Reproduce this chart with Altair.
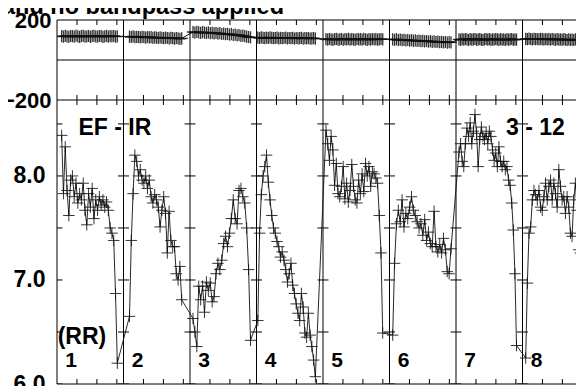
import altair as alt
import pandas as pd

FONT = "Liberation Sans"
TITLE = "and no bandpass applied"
SEG_NAMES = ["1", "2", "3", "4", "5", "6", "7", "8"]
PANEL_LABELS = ["EF - IR", "3 - 12"]
RR_LABEL = "(RR)"

# sample window inside each segment (fraction of the segment width)
SEG_T0 = [0.07, 0.09, 0.045, 0.02, 0.045, 0.048, 0.045, 0.048]
SEG_T1 = [0.907, 0.875, 0.91, 0.885, 0.898, 0.925, 0.91, 0.92]

# lower panel (amplitude)
AMP_1 = [8.39, 7.83, 8.28, 7.86, 7.62, 7.96, 8.00, 7.80, 7.93, 7.74, 7.83, 7.77, 7.93, 7.67, 7.53, 7.83,
         7.70, 7.88, 7.59, 7.77, 7.67, 7.80, 7.72, 7.77, 7.70, 7.75, 7.67, 7.50, 7.45, 7.38, 6.87, 6.20]
AMP_2 = [6.65, 7.38, 7.83, 8.20, 8.14, 8.00, 8.06, 7.96, 7.93, 8.00, 7.88, 7.96, 7.80, 7.74, 7.82, 7.77,
         7.70, 7.51, 7.67, 7.80, 7.64, 7.26, 7.66, 7.38, 7.32, 7.32, 7.06, 7.00, 7.13, 6.81]
AMP_3 = [6.63, 6.50, 6.36, 6.94, 6.81, 6.94, 6.69, 6.98, 6.90, 6.97, 6.79, 6.84, 7.06, 7.16, 7.10, 7.19,
         7.35, 7.42, 7.32, 7.45, 7.59, 7.77, 7.59, 7.54, 7.86, 7.88, 7.80, 7.74, 7.50, 7.10, 6.42]
AMP_4 = [6.61, 7.45, 7.82, 8.00, 8.09, 8.20, 7.94, 7.77, 7.62, 7.50, 7.45, 7.37, 7.32, 7.22, 7.27, 7.19,
         7.10, 6.98, 7.06, 7.16, 6.95, 6.87, 6.77, 6.68, 6.61, 6.87, 6.74, 6.49, 6.45, 6.68, 6.47, 6.36,
         6.23, 6.07]
AMP_5 = [8.44, 8.31, 8.15, 8.38, 8.25, 7.91, 8.12, 7.83, 7.80, 7.90, 8.09, 7.78, 7.93, 7.75, 7.86, 8.11,
         7.90, 7.77, 7.74, 7.96, 7.83, 8.02, 7.85, 8.12, 8.00, 8.09, 7.90, 8.04, 8.02, 7.98, 7.93, 7.62,
         7.26, 6.49]
AMP_6 = [6.47, 7.16, 7.54, 7.67, 7.56, 7.77, 7.51, 7.64, 7.59, 7.70, 7.80, 7.67, 7.62, 7.56, 7.50, 7.54,
         7.43, 7.58, 7.38, 7.46, 7.35, 7.32, 7.66, 7.32, 7.27, 7.34, 7.26, 7.40, 7.29, 7.08, 7.06, 7.30]
AMP_7 = [8.23, 8.31, 8.14, 8.09, 8.31, 8.46, 8.38, 8.51, 8.31, 8.43, 8.59, 8.41, 8.09, 8.35, 8.47, 8.38,
         8.35, 8.41, 8.31, 8.43, 8.38, 8.25, 8.15, 8.22, 8.09, 8.28, 8.14, 8.09, 8.14, 8.06, 8.09, 7.96,
         7.91, 7.74, 7.48, 7.06, 6.37]
AMP_8 = [6.25, 6.97, 7.45, 7.51, 7.77, 7.86, 7.82, 7.77, 7.86, 7.70, 7.67, 7.80, 7.93, 7.77, 7.90, 7.96,
         7.77, 7.93, 7.83, 7.70, 8.06, 7.90, 7.77, 7.80, 7.64, 7.80, 7.70, 7.45, 7.42, 7.77, 7.93, 7.67,
         7.29, 7.26, 7.70, 7.90]

# upper panel (phase)
PH_1 = [119, 117, 121, 118, 116, 120, 119, 117, 122, 118, 116, 119, 121, 117, 118, 120,
        116, 119, 121, 118, 117, 120, 119, 116, 118, 121, 117, 119, 118, 120, 117, 118]
PH_2 = [117, 115, 118, 114, 116, 115, 113, 116, 114, 112, 115, 113, 114, 111, 113, 112,
        110, 113, 111, 109, 112, 110, 108, 111, 109, 107, 110, 108, 106, 108]
PH_3 = [140, 137, 141, 138, 136, 139, 137, 135, 138, 134, 136, 133, 135, 132, 134, 130,
        132, 129, 131, 127, 129, 125, 127, 123, 125, 121, 122, 119, 117, 115, 113]
PH_4 = [112, 110, 113, 111, 109, 112, 110, 113, 111, 109, 110, 112, 108, 111, 109, 110,
        112, 108, 110, 109, 111, 107, 110, 108, 109, 111, 107, 109, 108, 110, 107, 108, 109, 107]
PH_5 = [104, 102, 105, 103, 101, 104, 106, 102, 103, 105, 101, 104, 103, 106, 102, 104,
        103, 101, 105, 103, 104, 102, 106, 103, 101, 104, 102, 105, 103, 104, 102, 103, 105, 103]
PH_6 = [103, 101, 104, 100, 102, 99, 101, 98, 100, 97, 99, 96, 98, 95, 97, 94,
        96, 93, 95, 92, 94, 91, 93, 90, 92, 89, 91, 88, 90, 87, 89, 88]
PH_7 = [103, 101, 104, 102, 105, 103, 100, 104, 102, 103, 105, 101, 103, 104, 102, 100,
        103, 105, 102, 104, 101, 103, 102, 105, 103, 101, 104, 102, 103, 100, 104, 102,
        103, 105, 101, 103, 102]
PH_8 = [106, 104, 107, 105, 103, 106, 104, 105, 103, 106, 104, 102, 105, 103, 104, 102,
        105, 103, 101, 104, 102, 103, 101, 104, 102, 100, 103, 101, 102, 100, 103, 101,
        99, 102, 100, 101]

PH_TICKS = [200, -200]
PH_LINES = [200, 0, -200]
AMP_TICKS = [6.0, 7.0, 8.0]
AMP_MINOR = [6.0, 6.5, 7.0, 7.5, 8.0, 8.5]
X_TICKS_IN_SEG = [0.3, 0.6, 0.9]

AMP = [AMP_1, AMP_2, AMP_3, AMP_4, AMP_5, AMP_6, AMP_7, AMP_8]
PH = [PH_1, PH_2, PH_3, PH_4, PH_5, PH_6, PH_7, PH_8]


def series(segs):
    rows = []
    for k, vals in enumerate(segs):
        n = len(vals)
        for i, v in enumerate(vals):
            t = k + SEG_T0[k] + (SEG_T1[k] - SEG_T0[k]) * i / (n - 1)
            rows.append({"t": t, "v": v})
    return pd.DataFrame(rows)


amp_df = series(AMP)
ph_df = series(PH)

XMAX = 527 / 66.5
xs = alt.Scale(domain=[0, XMAX], nice=False, zero=False)
ps = alt.Scale(domain=[-200, 200], range=[80, 0], nice=False, zero=False)
ams = alt.Scale(domain=[6.0, 8.73], range=[364, 80], nice=False, zero=False)

X = alt.X("t:Q", scale=xs, axis=None)


def YP(axis=None):
    return alt.Y("v:Q", scale=ps, axis=axis)


def YA(axis=None):
    return alt.Y("v:Q", scale=ams, axis=axis)


lab = dict(labelFont=FONT, labelFontWeight="bold", labelColor="black",
           ticks=False, domain=False, grid=False, title=None, labelOverlap=False, labelFlush=False)
ph_axis = alt.Axis(orient="left", values=PH_TICKS, labelPadding=6, labelFontSize=22, **lab)
amp_axis = alt.Axis(orient="left", values=AMP_TICKS, format=".1f", labelPadding=12, labelFontSize=23, **lab)

INK = "#111111"
PLUS = "M-1,0L1,0M0,-1L0,1"

sep = alt.Chart(pd.DataFrame({"t": list(range(8))})).mark_rule(color="black", strokeWidth=1).encode(x=X)
hl_top = alt.Chart(pd.DataFrame({"v": PH_LINES})).mark_rule(color="black", strokeWidth=1).encode(y=YP())
hl_bot = alt.Chart(pd.DataFrame({"v": [AMP_MINOR[0]]})).mark_rule(color="black", strokeWidth=1).encode(y=YA())

xt = [k + f for k in range(9) for f in X_TICKS_IN_SEG]
vt_top = alt.Chart(pd.DataFrame([{"t": t, "v": v} for t in xt for v in PH_TICKS])).mark_tick(
    orient="vertical", size=10, thickness=1, color="black", opacity=1, clip=True).encode(x=X, y=YP())
vt_bot = alt.Chart(pd.DataFrame([{"t": t, "v": AMP_MINOR[0]} for t in xt])).mark_tick(
    orient="vertical", size=10, thickness=1, color="black", opacity=1, clip=True).encode(x=X, y=YA())
ht_bot = alt.Chart(pd.DataFrame([{"t": k, "v": v} for k in range(9) for v in AMP_MINOR])).mark_tick(
    orient="horizontal", size=11, thickness=1, color="black", opacity=1, clip=True).encode(x=X, y=YA())

ph_line = alt.Chart(ph_df).mark_line(color=INK, strokeWidth=1, clip=True).encode(x=X, y=YP(ph_axis))
ph_pts = alt.Chart(ph_df).mark_point(shape=PLUS, size=150, filled=False, strokeWidth=1.3, color=INK,
                                     opacity=0.85, clip=True).encode(x=X, y=YP())
amp_line = alt.Chart(amp_df).mark_line(color=INK, strokeWidth=0.9, clip=True).encode(x=X, y=YA(amp_axis))
amp_pts = alt.Chart(amp_df).mark_point(shape=PLUS, size=132, filled=False, strokeWidth=1, color=INK,
                                       opacity=0.85, clip=True).encode(x=X, y=YA())

txt_rows = [{"t": 0.323, "v": 8.394, "label": PANEL_LABELS[0]},
            {"t": 6.752, "v": 8.394, "label": PANEL_LABELS[1]},
            {"t": 0.01, "v": 6.385, "label": RR_LABEL}]
big_txt = alt.Chart(pd.DataFrame(txt_rows)).mark_text(
    font=FONT, fontSize=23, fontWeight="bold", color="black", align="left", baseline="alphabetic"
).encode(x=X, y=YA(), text="label:N")
num_txt = alt.Chart(pd.DataFrame({"t": [k + 0.125 for k in range(8)], "v": [6.163] * 8, "label": SEG_NAMES})).mark_text(
    font=FONT, fontSize=21, fontWeight="bold", color="black", align="left", baseline="alphabetic"
).encode(x=X, y=YA(), text="label:N")

chart = alt.layer(
    sep, hl_top, hl_bot, vt_top, vt_bot, ht_bot,
    ph_line, ph_pts, amp_line, amp_pts, big_txt, num_txt
).resolve_scale(y="independent").properties(
    width=527, height=364,
    autosize=alt.AutoSizeParams(type="none"),
    padding={"left": 49, "top": 12, "right": -8, "bottom": 2},
    title=alt.TitleParams(text=TITLE, anchor="start", frame="group", font=FONT, fontSize=23.5,
                          fontWeight="bold", color="black", offset=-9, dx=-55),
).configure_view(stroke=None)

chart.save("out.html", embed_options={"renderer": "svg", "actions": False})
